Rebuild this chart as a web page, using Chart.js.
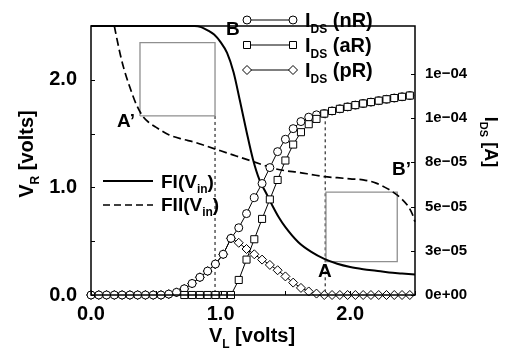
<!DOCTYPE html>
<html>
<head>
<meta charset="utf-8">
<script src="https://cdn.jsdelivr.net/npm/chart.js@4.4.1/dist/chart.umd.min.js"></script>
<style>
  html, body { margin: 0; padding: 0; background: #fff; }
  canvas { display: block; }
</style>
</head>
<body>
<canvas id="c" width="510" height="358"></canvas>
<script>
const FONT = '"Liberation Sans", Arial, Helvetica, sans-serif';

// ---- transfer curves (left axis, volts) ----
const fiX  = [0, 0.2, 0.4, 0.6, 0.7, 0.8, 0.85, 0.9, 0.95, 1.0, 1.05, 1.1, 1.15, 1.2, 1.25, 1.3, 1.35, 1.4, 1.45, 1.5, 1.6, 1.7, 1.8, 1.9, 2.0, 2.1, 2.2, 2.3, 2.4, 2.5];
const fiY  = [2.5, 2.5, 2.5, 2.5, 2.5, 2.5, 2.49, 2.46, 2.42, 2.35, 2.25, 2.07, 1.8, 1.52, 1.26, 1.07, 0.95, 0.83, 0.72, 0.63, 0.49, 0.4, 0.335, 0.29, 0.26, 0.24, 0.225, 0.21, 0.2, 0.19];
const fiiX = [0.18, 0.2, 0.225, 0.25, 0.3, 0.35, 0.4, 0.45, 0.5, 0.6, 0.7, 0.8, 0.9, 1.0, 1.1, 1.2, 1.3, 1.4, 1.5, 1.6, 1.7, 1.8, 1.9, 2.0, 2.1, 2.2, 2.3, 2.35, 2.4, 2.45, 2.48, 2.5];
const fiiY = [2.5, 2.38, 2.24, 2.12, 1.93, 1.77, 1.66, 1.6, 1.56, 1.49, 1.45, 1.42, 1.38, 1.34, 1.3, 1.26, 1.22, 1.18, 1.155, 1.14, 1.12, 1.1, 1.09, 1.08, 1.07, 1.04, 0.98, 0.94, 0.89, 0.82, 0.75, 0.68];

// ---- drain currents (right axis, amperes) ----
const vL = [0.00, 0.06, 0.12, 0.18, 0.24, 0.30, 0.36, 0.42, 0.48, 0.54,
            0.60, 0.66, 0.72, 0.78, 0.84, 0.90, 0.96, 1.02, 1.08, 1.14,
            1.20, 1.26, 1.32, 1.38, 1.44, 1.50, 1.56, 1.62, 1.68, 1.74,
            1.80, 1.86, 1.92, 1.98, 2.04, 2.10, 2.16, 2.22, 2.28, 2.34,
            2.40, 2.46];
const idsNR = [0, 0, 0, 0, 0, 0, 0, 0, 0, 0,
               5.0e-7, 1.5e-6, 3.5e-6, 6.5e-6, 1.0e-5, 1.35e-5, 1.75e-5, 2.3e-5, 3.2e-5, 3.8e-5,
               4.6e-5, 5.5e-5, 6.3e-5, 7.2e-5, 8.1e-5, 8.8e-5, 9.4e-5, 9.8e-5, 1.005e-4, 1.018e-4,
               1.025e-4, 1.04e-4, 1.052e-4, 1.063e-4, 1.073e-4, 1.082e-4, 1.09e-4, 1.098e-4, 1.106e-4, 1.113e-4,
               1.12e-4, 1.127e-4];
const idsAR = [null, null, null, null, null, null, null, null, null, null,
               null, null, 0, 0, 0, 0, 0, 0, 0, 8.5e-6,
               2.0e-5, 3.15e-5, 4.3e-5, 5.4e-5, 6.5e-5, 7.6e-5, 8.5e-5, 9.2e-5, 9.65e-5, 9.95e-5,
               1.025e-4, 1.04e-4, 1.052e-4, 1.063e-4, 1.073e-4, 1.082e-4, 1.09e-4, 1.098e-4, 1.106e-4, 1.113e-4,
               1.12e-4, 1.127e-4];
const idsPR = [0, 0, 0, 0, 0, 0, 0, 0, 0, 0,
               5.0e-7, 1.5e-6, 3.5e-6, 6.5e-6, 1.0e-5, 1.35e-5, 1.75e-5, 2.3e-5, 3.2e-5, 2.95e-5,
               2.6e-5, 2.3e-5, 2.0e-5, 1.7e-5, 1.4e-5, 1.05e-5, 7.0e-6, 4.0e-6, 2.0e-6, 8.0e-7,
               0, 0, 0, 0, 0, 0, 0, 0, 0, 0,
               0, 0];

// ---- noise-margin squares and guide lines (left axis) ----
const box1X = [0.378, 0.957, 0.957, 0.378, 0.378];
const box1Y = [1.664, 1.664, 2.345, 2.345, 1.664];
const box2X = [1.813, 2.363, 2.363, 1.813, 1.813];
const box2Y = [0.31, 0.31, 0.957, 0.957, 0.31];
const guide1X = [0.957, 0.957];
const guide1Y = [1.664, 0];
const guide2X = [1.807, 1.807];
const guide2Y = [1.67, 0];

// ---- axis ticks ----
const xTickVals = [0, 1, 2];
const xTickLabels = ['0.0', '1.0', '2.0'];
const yLTickVals = [0, 1, 2];
const yLTickLabels = ['0.0', '1.0', '2.0'];
const yRTickVals = [0, 2.5e-5, 5e-5, 7.5e-5, 1e-4, 1.25e-4];
const yRTickLabels = ['0e+00', '3e\u221205', '5e\u221205', '8e\u221205', '1e\u221204', '1e\u221204'];
const minorX = [0, 0.5, 1, 1.5, 2, 2.5];
const minorYL = [0, 0.5, 1, 1.5, 2, 2.5];

const pts = (xs, ys) => xs.map((x, k) => ({ x: x, y: ys[k] }));

function drawMarker(ctx, style, x, y) {
  ctx.save();
  ctx.fillStyle = '#fff';
  ctx.strokeStyle = '#000';
  ctx.lineWidth = 1;
  ctx.beginPath();
  if (style === 'circle') {
    ctx.arc(x, y, 4, 0, Math.PI * 2);
  } else if (style === 'rect') {
    ctx.rect(x - 3.5, y - 3.5, 7, 7);
  } else {
    ctx.moveTo(x - 4.5, y); ctx.lineTo(x, y - 4.5);
    ctx.lineTo(x + 4.5, y); ctx.lineTo(x, y + 4.5);
    ctx.closePath();
  }
  ctx.fill();
  ctx.stroke();
  ctx.restore();
}

// text with subscript pieces: parts = [[text, isSub], ...]
function richText(ctx, parts, x, y, size, align) {
  const subSize = Math.round(size * 0.62);
  const big = 'bold ' + size + 'px ' + FONT;
  const small = 'bold ' + subSize + 'px ' + FONT;
  let w = 0;
  parts.forEach(p => { ctx.font = p[1] ? small : big; w += ctx.measureText(p[0]).width; });
  let cx = align === 'center' ? x - w / 2 : (align === 'right' ? x - w : x);
  ctx.textAlign = 'left';
  ctx.textBaseline = 'alphabetic';
  ctx.fillStyle = '#000';
  parts.forEach(p => {
    ctx.font = p[1] ? small : big;
    ctx.fillText(p[0], cx, p[1] ? y + size * 0.28 : y);
    cx += ctx.measureText(p[0]).width;
  });
}

const decor = {
  id: 'decor',
  afterDatasetsDraw(chart) {
    const ctx = chart.ctx;
    const a = chart.chartArea;
    const sx = chart.scales.x, sl = chart.scales.yL, sr = chart.scales.yR;
    ctx.save();
    ctx.strokeStyle = '#000';
    ctx.lineWidth = 1;
    minorX.forEach(v => {
      const px = Math.round(sx.getPixelForValue(v)) + 0.5;
      ctx.beginPath(); ctx.moveTo(px, a.bottom); ctx.lineTo(px, a.bottom - 4); ctx.stroke();
    });
    minorYL.forEach(v => {
      const py = Math.round(sl.getPixelForValue(v)) + 0.5;
      ctx.beginPath(); ctx.moveTo(a.left, py); ctx.lineTo(a.left + 4, py); ctx.stroke();
    });
    yRTickVals.forEach(v => {
      const py = Math.round(sr.getPixelForValue(v)) + 0.5;
      ctx.beginPath(); ctx.moveTo(a.right, py); ctx.lineTo(a.right - 4, py); ctx.stroke();
    });
    ctx.lineWidth = 1.5;
    ctx.strokeRect(a.left, a.top, a.right - a.left, a.bottom - a.top);
    ctx.restore();
  },
  afterDraw(chart) {
    const ctx = chart.ctx;
    ctx.save();
    // axis titles
    richText(ctx, [['V', false], ['L', true], [' [volts]', false]], 252, 342, 20, 'center');
    ctx.save();
    ctx.translate(33, 154);
    ctx.rotate(-Math.PI / 2);
    richText(ctx, [['V', false], ['R', true], [' [volts]', false]], 0, 0, 20, 'center');
    ctx.restore();
    ctx.save();
    ctx.translate(485, 142);
    ctx.rotate(Math.PI / 2);
    richText(ctx, [['I', false], ['DS', true], [' [A]', false]], 0, 0, 18, 'center');
    ctx.restore();

    // current legend
    const rows = [['circle', '(nR)', 20], ['rect', '(aR)', 45], ['diamond', '(pR)', 70]];
    rows.forEach(r => {
      ctx.save();
      ctx.strokeStyle = '#000'; ctx.lineWidth = 1;
      ctx.beginPath(); ctx.moveTo(247, r[2]); ctx.lineTo(293, r[2]); ctx.stroke();
      ctx.restore();
      drawMarker(ctx, r[0], 247, r[2]);
      drawMarker(ctx, r[0], 293, r[2]);
      richText(ctx, [['I', false], ['DS', true], [' ' + r[1], false]], 305, r[2] + 7, 20, 'left');
    });

    // transfer-curve legend
    ctx.save();
    ctx.strokeStyle = '#000';
    ctx.lineWidth = 2;
    ctx.beginPath(); ctx.moveTo(103, 181); ctx.lineTo(153, 181); ctx.stroke();
    ctx.lineWidth = 1.6;
    ctx.setLineDash([7, 4]);
    ctx.beginPath(); ctx.moveTo(103, 205); ctx.lineTo(153, 205); ctx.stroke();
    ctx.restore();
    richText(ctx, [['FI(V', false], ['in', true], [')', false]], 161, 188, 19, 'left');
    richText(ctx, [['FII(V', false], ['in', true], [')', false]], 161, 211, 19, 'left');

    // curve point labels
    richText(ctx, [['B', false]], 226, 35, 19, 'left');
    richText(ctx, [['A\u2019', false]], 117, 127, 19, 'left');
    richText(ctx, [['B\u2019', false]], 392, 175, 19, 'left');
    richText(ctx, [['A', false]], 318, 277, 19, 'left');
    ctx.restore();
  }
};

const markerSet = (label, ys, style, radius, order) => ({
  label: label,
  data: pts(vL, ys),
  yAxisID: 'yR',
  borderColor: '#000',
  borderWidth: 1,
  backgroundColor: '#fff',
  pointStyle: style,
  pointRadius: radius,
  pointBorderColor: '#000',
  pointBackgroundColor: '#fff',
  pointBorderWidth: 1,
  tension: 0,
  clip: false,
  order: order
});

new Chart(document.getElementById('c'), {
  type: 'line',
  data: {
    datasets: [
      markerSet('IDS (aR)', idsAR, 'rect', 5, 1),
      markerSet('IDS (nR)', idsNR, 'circle', 4, 2),
      markerSet('IDS (pR)', idsPR, 'rectRot', 4.5, 3),
      { label: 'FI(Vin)', data: pts(fiX, fiY), yAxisID: 'yL', borderColor: '#000', borderWidth: 2,
        pointRadius: 0, cubicInterpolationMode: 'monotone', clip: false, order: 4 },
      { label: 'FII(Vin)', data: pts(fiiX, fiiY), yAxisID: 'yL', borderColor: '#000', borderWidth: 1.7,
        borderDash: [8, 4], pointRadius: 0, cubicInterpolationMode: 'monotone', clip: false, order: 5 },
      { label: 'box1', data: pts(box1X, box1Y), yAxisID: 'yL', borderColor: '#8f8f8f', borderWidth: 1.3,
        pointRadius: 0, tension: 0, order: 6 },
      { label: 'box2', data: pts(box2X, box2Y), yAxisID: 'yL', borderColor: '#8f8f8f', borderWidth: 1.3,
        pointRadius: 0, tension: 0, order: 6 },
      { label: 'guide1', data: pts(guide1X, guide1Y), yAxisID: 'yL', borderColor: '#000', borderWidth: 1,
        borderDash: [3, 3], pointRadius: 0, tension: 0, order: 7 },
      { label: 'guide2', data: pts(guide2X, guide2Y), yAxisID: 'yL', borderColor: '#000', borderWidth: 1,
        borderDash: [3, 3], pointRadius: 0, tension: 0, order: 7 }
    ]
  },
  options: {
    responsive: false,
    animation: false,
    devicePixelRatio: 1,
    layout: { padding: { top: 5, left: 0, right: 0, bottom: 0 } },
    plugins: { legend: { display: false }, tooltip: { enabled: false } },
    scales: {
      x: {
        type: 'linear', min: 0, max: 2.5, position: 'bottom',
        grid: { display: false, drawTicks: false }, border: { display: false },
        afterBuildTicks: s => { s.ticks = xTickVals.map(v => ({ value: v })); },
        afterFit: s => { s.height = 63; },
        ticks: { callback: (v, i) => xTickLabels[i], color: '#000', padding: 7, maxRotation: 0,
                 font: { family: FONT, size: 20, weight: 'bold' } }
      },
      yL: {
        type: 'linear', min: 0, max: 2.5, position: 'left',
        grid: { display: false, drawTicks: false }, border: { display: false },
        afterBuildTicks: s => { s.ticks = yLTickVals.map(v => ({ value: v })); },
        afterFit: s => { s.width = 91; },
        ticks: { callback: (v, i) => yLTickLabels[i], color: '#000', padding: 14,
                 font: { family: FONT, size: 20, weight: 'bold' } }
      },
      yR: {
        type: 'linear', min: 0, max: 1.52e-4, position: 'right',
        grid: { display: false, drawTicks: false }, border: { display: false },
        afterBuildTicks: s => { s.ticks = yRTickVals.map(v => ({ value: v })); },
        afterFit: s => { s.width = 95; },
        ticks: { callback: (v, i) => yRTickLabels[i], color: '#000', padding: 10,
                 font: { family: FONT, size: 15, weight: 'bold' } }
      }
    }
  },
  plugins: [decor]
});
</script>
</body>
</html>
